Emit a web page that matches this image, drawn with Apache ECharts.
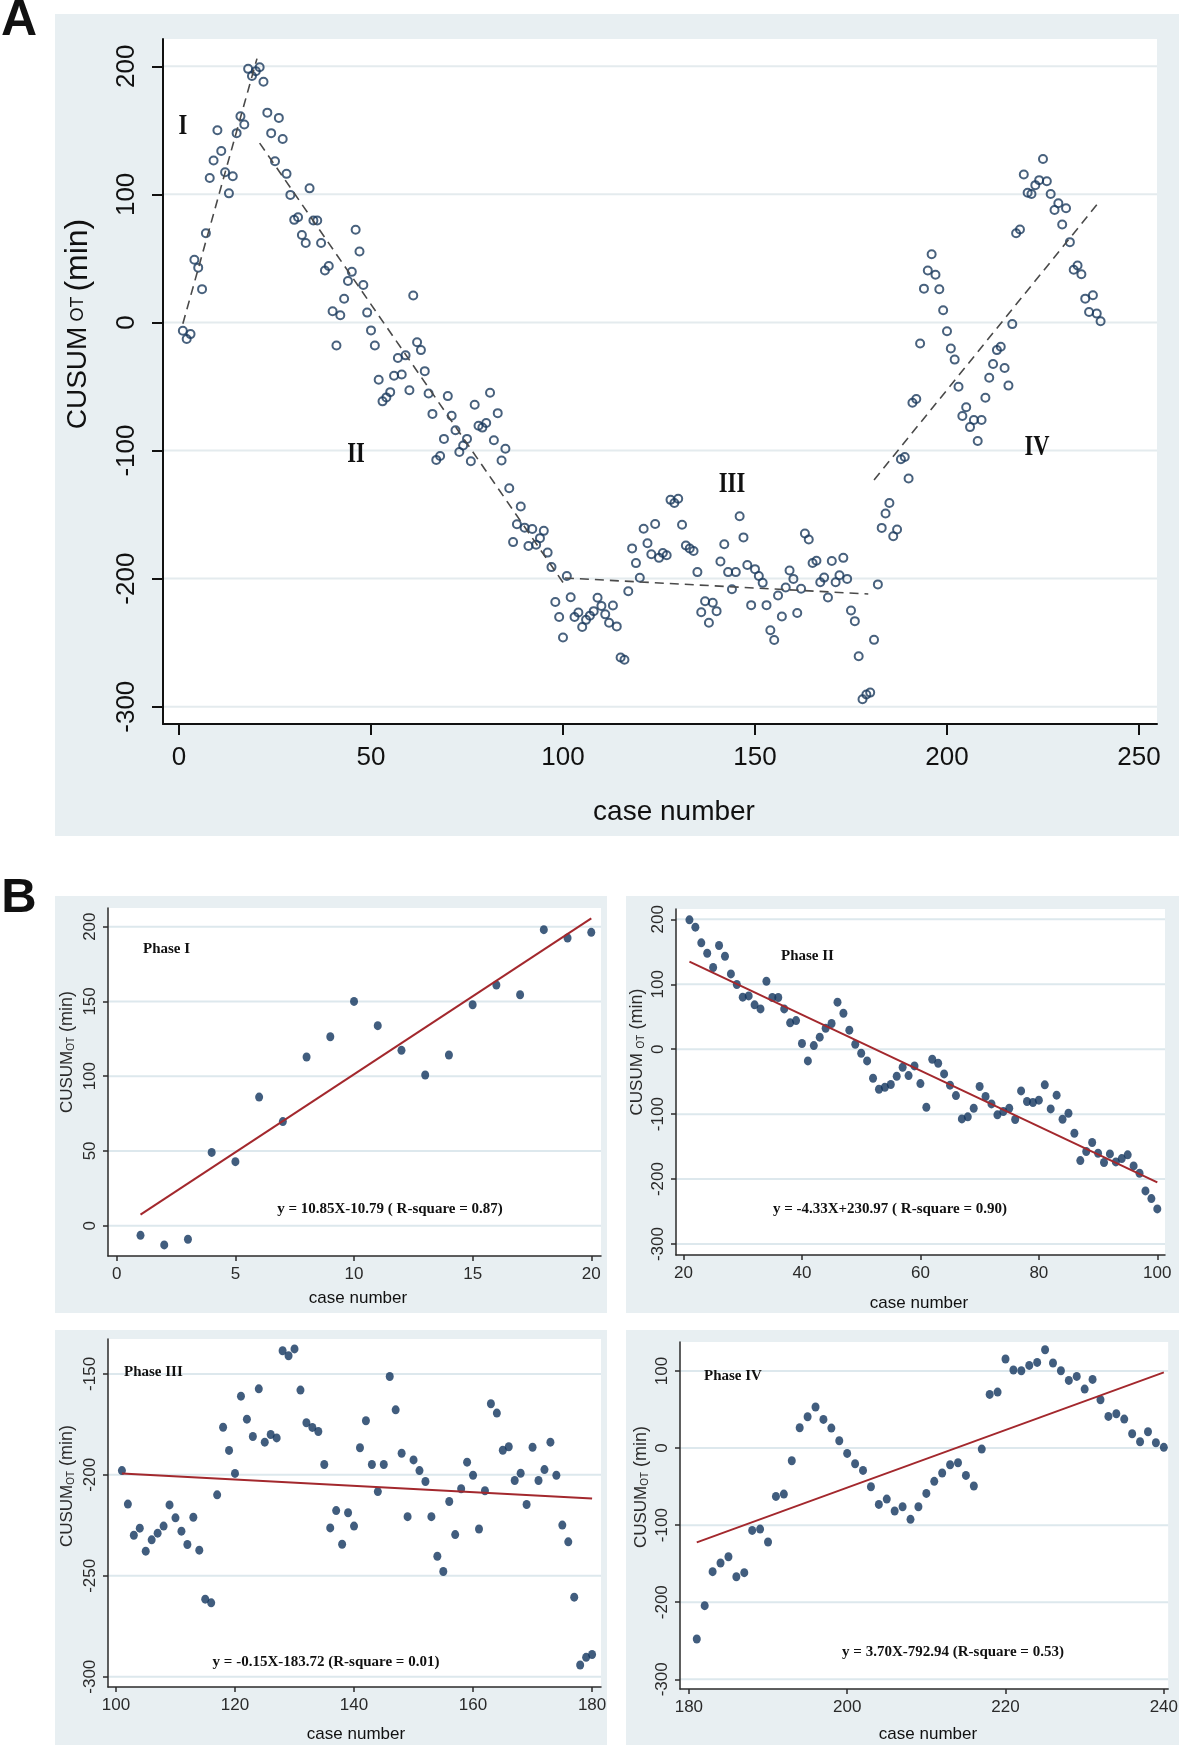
<!DOCTYPE html>
<html><head><meta charset="utf-8">
<script src="https://cdn.jsdelivr.net/npm/echarts@6/dist/echarts.min.js"></script>
<style>html,body{margin:0;padding:0;background:#fff}#c{width:1181px;height:1747px}</style>
</head><body><div id="c"></div>
<script>
// ---------------- DATA ----------------
// CUSUM_OT values read per case number
const phase1 = [-6.5, -12.9, -9.1, 49.0, 42.8, 86.0, 69.6, 112.8, 126.4, 150.0, 133.8, 117.3, 100.8, 114.2, 147.8, 161.0, 154.5, 198.0, 192.4, 196.2];
const phase2 = [199.2, 187.9, 163.8, 147.8, 125.8, 159.7, 143.2, 116.0, 99.6, 80.1, 82.1, 68.3, 62.1, 104.7, 79.6, 79.6, 62.1, 40.6, 44.1, 8.7,
  -18.0, 5.6, 18.5, 32.3, 39.5, 72.4, 55.4, 29.3, 7.7, -6.2, -18.0, -44.7, -61.6, -58.5, -54.4, -41.6, -27.7, -40.6, -25.7, -52.9,
  -89.3, -15.4, -21.6, -38.0, -55.4, -71.4, -107.3, -104.2, -90.9, -57.5, -72.9, -84.2, -101.1, -96.0, -90.9, -108.3, -64.2, -80.6, -82.1, -78.5,
  -54.9, -91.9, -70.8, -107.8, -98.6, -129.4, -171.5, -157.6, -143.7, -160.2, -174.5, -161.2, -173.5, -168.4, -162.7, -179.7, -191.0, -218.2, -230.0, -245.9];
const phase3 = [-197.9, -214.5, -229.9, -226.4, -237.8, -232.2, -228.9, -225.4, -214.9, -221.3, -227.9, -234.5, -221.0, -237.3, -261.6, -263.4, -209.9, -176.4, -187.9, -199.3,
  -161.0, -172.4, -181.0, -157.4, -183.8, -180.0, -181.7, -138.5, -141.0, -137.6, -158.0, -174.2, -176.5, -178.5, -194.9, -226.3, -217.7, -234.4, -218.8, -225.4,
  -186.6, -173.2, -194.9, -208.3, -194.9, -151.3, -167.8, -189.3, -220.7, -192.6, -197.9, -203.3, -220.7, -240.3, -247.9, -213.2, -229.6, -206.9, -193.7, -200.2,
  -226.8, -207.9, -164.8, -169.4, -187.8, -186.1, -202.8, -199.2, -214.7, -186.3, -202.8, -197.4, -183.8, -200.2, -224.9, -233.2, -260.6, -294.2, -290.4, -289.0];
const phase4 = [-247.8, -204.5, -160.4, -149.2, -141.0, -166.9, -161.7, -106.8, -105.1, -121.9, -62.7, -59.7, -16.4, 26.4, 40.6, 53.2, 37.2, 25.9, 9.5, -6.9,
  -20.3, -29.0, -50.2, -73.1, -66.2, -81.7, -76.1, -92.5, -76.1, -58.8, -43.2, -32.4, -21.6, -19.0, -35.5, -49.3, -1.3, 69.6, 72.6, 115.5,
  101.2, 100.3, 107.2, 111.1, 127.6, 110.3, 100.3, 87.8, 93.0, 76.5, 89.1, 62.7, 41.1, 44.5, 37.6, 18.6, 8.2, 21.2, 6.9, 0.9];
const phaseStartCase = [1, 21, 101, 181];
// points that differ in panel A from panel B [case, value]
const panelAOverrides = [[6, 26], [61, 21]];

// dashed phase lines in panel A (endpoints [case, value])
const dashI = [[1, -1], [20.3, 206]];
const dashII = [[21, 140], [100, -203]];
const dashIII = [[100.5, -199.5], [179.5, -212]];
const dashIV = [[181, -123], [240, 95.5]];
// red regression lines in panel B
const fitI = [[1, 7.4], [20, 205.6]];
const fitII = [[21, 135], [100, -205]];
const fitIII = [[101, -199.3], [180, -211.7]];
const fitIV = [[181, -122.4], [240, 98.2]];

// tick labels
const xTicksA = [0, 50, 100, 150, 200, 250];
const yTicksA = [-300, -200, -100, 0, 100, 200];
const xTicksB1 = [0, 5, 10, 15, 20];
const yTicksB1 = [0, 50, 100, 150, 200];
const xTicksB2 = [20, 40, 60, 80, 100];
const yTicksB2 = [-300, -200, -100, 0, 100, 200];
const xTicksB3 = [100, 120, 140, 160, 180];
const yTicksB3 = [-300, -250, -200, -150];
const xTicksB4 = [180, 200, 220, 240];
const yTicksB4 = [-300, -200, -100, 0, 100];

// texts
const romanLabels = ['I', 'II', 'III', 'IV'];
const phaseNames = ['Phase I', 'Phase II', 'Phase III', 'Phase IV'];
const equations = ['y = 10.85X-10.79 ( R-square = 0.87)', 'y = -4.33X+230.97 ( R-square = 0.90)',
  'y = -0.15X-183.72 (R-square = 0.01)', 'y = 3.70X-792.94 (R-square = 0.53)'];
const xTitle = 'case number';

// ---------------- BUILD ----------------
const SANS = "'Liberation Sans', Arial, sans-serif";
const NARROW = "'Liberation Sans Narrow', 'Arial Narrow', 'Liberation Sans', sans-serif";
const SERIF = "'Liberation Serif', 'Times New Roman', serif";
const BG = '#e8eff2';

const phases = [phase1, phase2, phase3, phase4];
const ptsB = phases.map((arr, k) => arr.map((v, i) => [phaseStartCase[k] + i, v]));
const ptsA = [].concat(...ptsB).map(p => p.slice());
panelAOverrides.forEach(([c, v]) => { const p = ptsA.find(q => q[0] === c); if (p) p[1] = v; });

const gridBoxes = [
  {left: 163, top: 39, width: 994, height: 685},
  {left: 108, top: 908, width: 493, height: 348},
  {left: 676, top: 909, width: 489, height: 346},
  {left: 108, top: 1339, width: 493, height: 348},
  {left: 680, top: 1342, width: 490, height: 347}
];
const xRange = [[-4.17, 254.69], [-0.37, 20.41], [18.73, 101.3], [98.66, 181.5], [178.88, 240.55]];
const yRange = [[-313.5, 221.3], [-20.3, 212.5], [-316.9, 215.9], [-305.1, -132.7], [-312.6, 137.6]];
const xTicks = [xTicksA, xTicksB1, xTicksB2, xTicksB3, xTicksB4];
const yTicks = [yTicksA, yTicksB1, yTicksB2, yTicksB3, yTicksB4];

const grid = gridBoxes.map(g => Object.assign({show: true, backgroundColor: '#ffffff', borderWidth: 0}, g));
const xAxis = [], yAxis = [];
for (let i = 0; i < 5; i++) {
  const A = i === 0;
  const axCol = A ? '#111' : '#2b2b2b';
  const lw = A ? 2 : 1.5;
  xAxis.push({
    type: 'value', gridIndex: i, min: xRange[i][0], max: xRange[i][1], z: 5,
    axisLine: {show: true, onZero: false, lineStyle: {color: axCol, width: lw}},
    axisTick: {show: true, length: A ? 11 : 5, customValues: xTicks[i], lineStyle: {color: axCol, width: lw}},
    axisLabel: {customValues: xTicks[i], fontSize: A ? 26 : 17, fontFamily: A ? SANS : NARROW,
      color: A ? '#111' : '#2a2a2a', margin: A ? 21 : 10},
    splitLine: {show: false}
  });
  yAxis.push({
    type: 'value', gridIndex: i, min: yRange[i][0], max: yRange[i][1], z: 5,
    axisLine: {show: true, onZero: false, lineStyle: {color: axCol, width: lw}},
    axisTick: {show: true, length: A ? 11 : 5, customValues: yTicks[i], lineStyle: {color: axCol, width: lw}},
    axisLabel: {customValues: yTicks[i], rotate: 90, fontSize: A ? 26 : 17, fontFamily: A ? SANS : NARROW,
      color: A ? '#111' : '#2a2a2a', margin: A ? 23 : 9},
    splitLine: {show: false}
  });
}

const series = [];
// grid lines
for (let i = 0; i < 5; i++) {
  yTicks[i].forEach(v => {
    series.push({type: 'line', xAxisIndex: i, yAxisIndex: i, silent: true, symbol: 'none', z: 1,
      data: [[xRange[i][0], v], [xRange[i][1], v]],
      lineStyle: {color: i === 0 ? '#e4ebee' : '#dde8ed', width: 2}});
  });
}
// panel A scatter (hollow circles)
series.push({type: 'scatter', xAxisIndex: 0, yAxisIndex: 0, data: ptsA, symbol: 'circle', symbolSize: 8, z: 3,
  silent: true, itemStyle: {color: 'rgba(0,0,0,0)', borderColor: '#1a3a5c', borderWidth: 2}});
[dashI, dashII, dashIII, dashIV].forEach(d => series.push({type: 'line', xAxisIndex: 0, yAxisIndex: 0, data: d,
  symbol: 'none', silent: true, z: 4, lineStyle: {color: '#4a4a4a', width: 1.6, type: [9, 6]}}));
// panel B
const fits = [fitI, fitII, fitIII, fitIV];
for (let k = 0; k < 4; k++) {
  series.push({type: 'scatter', xAxisIndex: k + 1, yAxisIndex: k + 1, data: ptsB[k], symbol: 'circle',
    symbolSize: [8, 9], silent: true, z: 3, itemStyle: {color: '#12355e'}});
  series.push({type: 'line', xAxisIndex: k + 1, yAxisIndex: k + 1, data: fits[k], symbol: 'none', silent: true, z: 4,
    lineStyle: {color: '#a3282d', width: 2}});
}

// graphic texts and backgrounds
const T = (x, y, text, font, extra) => Object.assign({type: 'text', x: x, y: y, z: 100,
  style: {text: text, font: font, fill: '#111', align: 'center', verticalAlign: 'middle',
    textAlign: 'center', textVerticalAlign: 'middle'}}, extra || {});
const rect = (x, y, w, h) => ({type: 'rect', z: -1, shape: {x: x, y: y, width: w, height: h}, style: {fill: BG}});
const graphic = [
  rect(55, 14, 1124, 822),
  rect(55, 896, 552, 417), rect(626, 896, 553, 417),
  rect(55, 1330, 552, 415), rect(626, 1330, 553, 415),
  T(19, 21, 'A', 'bold 50px ' + SANS, {}),
  T(19, 898, 'B', 'bold 49px ' + SANS, {}),
  T(674, 812, xTitle, '28px ' + SANS),
  {type: 'text', x: 78, y: 324, rotation: Math.PI / 2, z: 100, style: {
    text: '{a|CUSUM}{b| OT }{c|(min)}', align: 'center', verticalAlign: 'middle', textAlign: 'center', textVerticalAlign: 'middle',
    rich: {a: {fontSize: 28, fontFamily: SANS, fill: '#111'}, b: {fontSize: 18, fontFamily: SANS, fill: '#111'},
      c: {fontSize: 32, fontFamily: SANS, fill: '#111'}}}}
];
const romanPos = [[183, 126], [356, 454], [732, 484], [1037, 447]];
romanLabels.forEach((r, i) => graphic.push(T(romanPos[i][0], romanPos[i][1], r, 'bold 30px ' + SERIF, {scaleX: 0.75})));
const phasePos = [[143, 949], [781, 956], [124, 1372], [704, 1376]];
const eqPos = [[390, 1209], [890, 1209], [326, 1662], [953, 1652]];
const xtPos = [[358, 1298], [919, 1303], [356, 1734], [928, 1734]];
const ytPos = [[67, 1052], [637, 1052], [67, 1486], [641, 1487]];
for (let k = 0; k < 4; k++) {
  const pt = T(phasePos[k][0], phasePos[k][1], phaseNames[k], 'bold 15px ' + SERIF);
  pt.style.align = 'left'; pt.style.textAlign = 'left';
  graphic.push(pt);
  graphic.push(T(eqPos[k][0], eqPos[k][1], equations[k], 'bold 15px ' + SERIF));
  graphic.push(T(xtPos[k][0], xtPos[k][1], xTitle, '17px ' + NARROW, {}));
  const sp = k === 1 ? ' ' : '';
  graphic.push({type: 'text', x: ytPos[k][0], y: ytPos[k][1], rotation: Math.PI / 2, z: 100, style: {
    text: '{a|CUSUM' + sp + '}{b|OT}{c| (min)}', align: 'center', verticalAlign: 'middle', textAlign: 'center', textVerticalAlign: 'middle',
    rich: {a: {fontSize: 17, fontFamily: SANS, fill: '#2a2a2a', verticalAlign: 'bottom'},
      b: {fontSize: 10, fontFamily: SANS, fill: '#2a2a2a', verticalAlign: 'bottom'},
      c: {fontSize: 18, fontFamily: SANS, fill: '#2a2a2a', verticalAlign: 'bottom'}}}});
}

const chart = echarts.init(document.getElementById('c'), null, {renderer: 'canvas'});
chart.setOption({animation: false, backgroundColor: '#ffffff', grid: grid, xAxis: xAxis, yAxis: yAxis,
  series: series, graphic: {elements: graphic}});
</script></body></html>
